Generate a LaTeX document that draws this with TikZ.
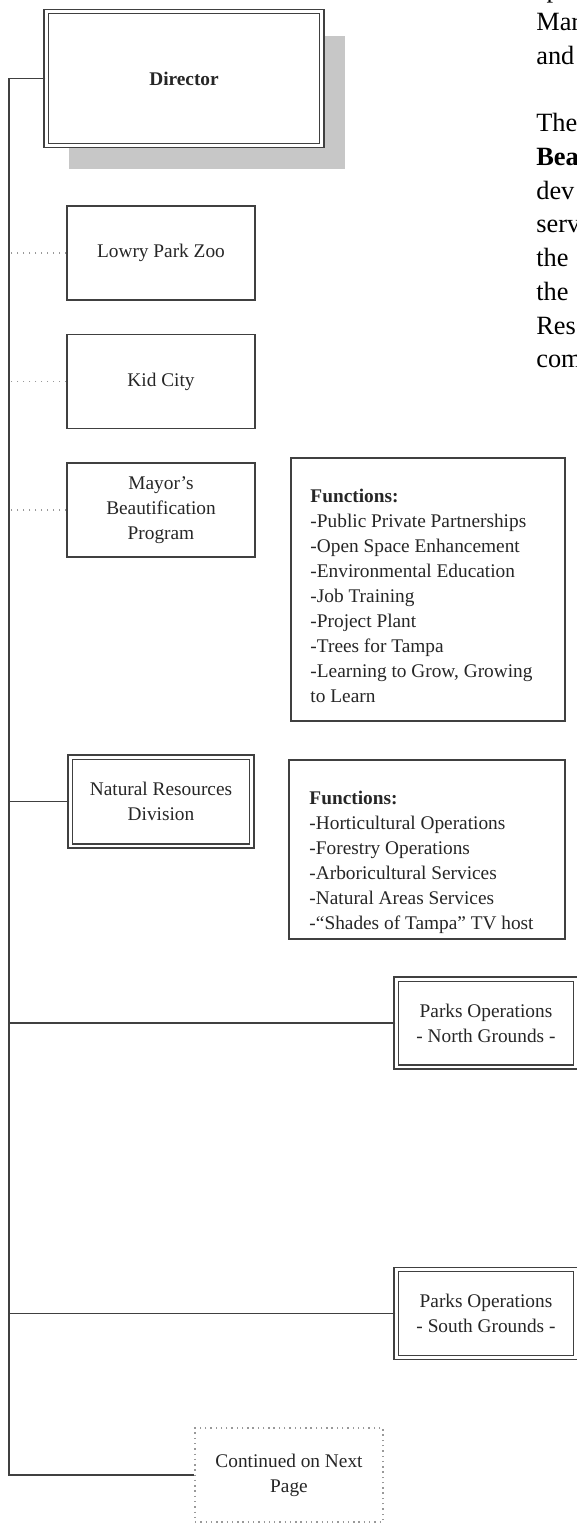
\documentclass[tikz,border=0pt]{standalone}
\usepackage{fontspec}
\setmainfont{Liberation Serif}
\usetikzlibrary{positioning,shadows}
\tikzstyle{unit} = [rectangle, draw=black!75, line width=1pt, align=center, text=black!85, minimum width=3.76cm, minimum height=1.88cm, font=\fontsize{11}{14.2}\selectfont]
\tikzstyle{division} = [unit, double, double distance=1.7pt, line width=0.8pt, minimum width=3.6cm, minimum height=1.76cm]
\tikzstyle{funcbox} = [rectangle, draw=black!75, line width=1pt]
\tikzstyle{functext} = [align=left, inner sep=0pt, text=black!85, font=\fontsize{11}{14.2}\selectfont]
\tikzstyle{trunk} = [draw=black!75, line width=1pt]
\tikzstyle{dotlink} = [draw=black!40, line width=0.8pt, dash pattern=on 0.8pt off 2.6pt]
\tikzstyle{bodytext} = [anchor=base west, inner sep=0pt, font=\fontsize{15}{19}\selectfont]

\begin{document}
\begin{tikzpicture}[x=0.02cm, y=-0.02cm]
   \useasboundingbox (0,0) rectangle (577,1525);
   \clip (0,0) rectangle (577,1525);

   \node (Director) at (184,78.5) [division, fill=white, minimum width=5.52cm, minimum height=2.68cm, font=\fontsize{11}{14.2}\selectfont\bfseries,
      drop shadow={shadow xshift=0.46cm, shadow yshift=-0.48cm, fill=black!22, opacity=1}] {Director};
   \coordinate (TrunkEnd) at (9,1475);

   \node (LowryParkZoo) at (161,253) [unit] {Lowry Park Zoo} edge[dotlink] (LowryParkZoo.west -| TrunkEnd);
   \node (KidCity) at (161,381.5) [unit] {Kid City} edge[dotlink] (KidCity.west -| TrunkEnd);
   \node (Beautification) at (161,510) [unit] {Mayor’s\\Beautification\\Program} edge[dotlink] (Beautification.west -| TrunkEnd);

   \node (BeautyFunctions) at (428,589.5) [funcbox, minimum width=5.48cm, minimum height=5.26cm] {};
   \node (BeautyList) [functext, anchor=north west] at ([xshift=0.4cm, yshift=-0.64cm]BeautyFunctions.north west)
      {\textbf{Functions:}\\-Public Private Partnerships\\-Open Space Enhancement\\-Environmental Education\\-Job Training\\-Project Plant\\-Trees for Tampa\\-Learning to Grow, Growing\\to Learn};

   \node (NaturalResources) at (161,801.5) [division, minimum width=3.64cm, minimum height=1.78cm] {Natural Resources\\Division} edge[trunk] (NaturalResources.west -| TrunkEnd);

   \node (NaturalFunctions) at (427,849.5) [funcbox, minimum width=5.52cm, minimum height=3.58cm] {};
   \node (NaturalList) [functext, anchor=north west] at ([xshift=0.42cm, yshift=-0.64cm]NaturalFunctions.north west)
      {\textbf{Functions:}\\-Horticultural Operations\\-Forestry Operations\\-Arboricultural Services\\-Natural Areas Services\\-``Shades of Tampa'' TV host};

   \node (ParksNorth) at (486,1023) [division] {Parks Operations\\- North Grounds -} edge[trunk] (ParksNorth.west -| TrunkEnd);
   \node (ParksSouth) at (486,1313.5) [division] {Parks Operations\\- South Grounds -} edge[trunk] (ParksSouth.west -| TrunkEnd);

   \node (NextPage) at (289,1475) [unit, draw=black!40, line width=0.8pt, dash pattern=on 0.8pt off 2.2pt] {Continued on Next\\Page};
   \draw[trunk] (Director.west) -| (TrunkEnd) -- (NextPage.west);

   % page text cut by the right edge
   \foreach \word [count=\i] in {sp,Mar,and,,The,\textbf{Bea},dev,serv,the,the,Res,com}
      \node (Body\i) [bodytext] at (536,-3+33.7*\i-33.7) {\word};
\end{tikzpicture}
\end{document}
